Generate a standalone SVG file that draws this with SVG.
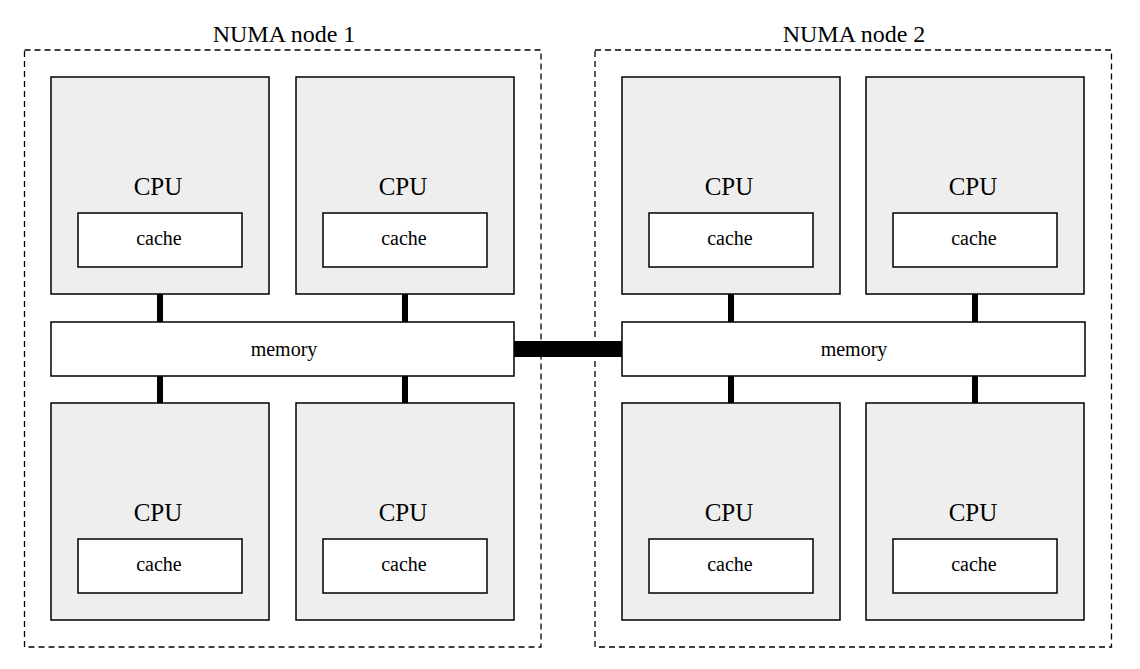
<svg xmlns="http://www.w3.org/2000/svg" width="1140" height="669" viewBox="0 0 1140 669">
<style>
.numa{fill:none;stroke:#000;stroke-width:1.3;stroke-dasharray:6,4}
.cpu{fill:#eeeeee;stroke:#000;stroke-width:1.5}
.box{fill:#fff;stroke:#000;stroke-width:1.5}
.title{font-family:"Liberation Serif",serif;font-size:24px;text-anchor:middle;fill:#000}
.big{font-family:"Liberation Serif",serif;font-size:25px;text-anchor:middle;fill:#000}
.small{font-family:"Liberation Serif",serif;font-size:20px;text-anchor:middle;fill:#000}
.link{fill:#000}
</style>
<rect width="1140" height="669" fill="#fff"/>
<g id="numa1"><rect class="numa" x="24.5" y="50" width="516.5" height="597"/><text class="title" x="284" y="42">NUMA node 1</text></g>
<g id="numa2"><rect class="numa" x="595" y="50" width="516.5" height="597"/><text class="title" x="854" y="42">NUMA node 2</text></g>
<g id="connectors">
<rect class="link" x="157" y="294" width="6" height="28"/>
<rect class="link" x="402" y="294" width="6" height="28"/>
<rect class="link" x="157" y="376" width="6" height="27"/>
<rect class="link" x="402" y="376" width="6" height="27"/>
<rect class="link" x="728" y="294" width="6" height="28"/>
<rect class="link" x="972" y="294" width="6" height="28"/>
<rect class="link" x="728" y="376" width="6" height="27"/>
<rect class="link" x="972" y="376" width="6" height="27"/>
<rect class="link" x="514" y="341" width="108" height="16"/>
</g>
<g id="cpu1"><rect class="cpu" x="51" y="77" width="218" height="217"/><text class="big" x="158" y="195">CPU</text><rect class="box" x="78" y="213" width="164" height="54"/><text class="small" x="159" y="245">cache</text></g>
<g id="cpu2"><rect class="cpu" x="296" y="77" width="218" height="217"/><text class="big" x="403" y="195">CPU</text><rect class="box" x="323" y="213" width="164" height="54"/><text class="small" x="404" y="245">cache</text></g>
<g id="cpu3"><rect class="cpu" x="51" y="403" width="218" height="217"/><text class="big" x="158" y="521">CPU</text><rect class="box" x="78" y="539" width="164" height="54"/><text class="small" x="159" y="571">cache</text></g>
<g id="cpu4"><rect class="cpu" x="296" y="403" width="218" height="217"/><text class="big" x="403" y="521">CPU</text><rect class="box" x="323" y="539" width="164" height="54"/><text class="small" x="404" y="571">cache</text></g>
<g id="mem1"><rect class="box" x="51" y="322" width="463" height="54"/><text class="small" x="284" y="356">memory</text></g>
<g id="cpu5"><rect class="cpu" x="622" y="77" width="218" height="217"/><text class="big" x="729" y="195">CPU</text><rect class="box" x="649" y="213" width="164" height="54"/><text class="small" x="730" y="245">cache</text></g>
<g id="cpu6"><rect class="cpu" x="866" y="77" width="218" height="217"/><text class="big" x="973" y="195">CPU</text><rect class="box" x="893" y="213" width="164" height="54"/><text class="small" x="974" y="245">cache</text></g>
<g id="cpu7"><rect class="cpu" x="622" y="403" width="218" height="217"/><text class="big" x="729" y="521">CPU</text><rect class="box" x="649" y="539" width="164" height="54"/><text class="small" x="730" y="571">cache</text></g>
<g id="cpu8"><rect class="cpu" x="866" y="403" width="218" height="217"/><text class="big" x="973" y="521">CPU</text><rect class="box" x="893" y="539" width="164" height="54"/><text class="small" x="974" y="571">cache</text></g>
<g id="mem2"><rect class="box" x="622" y="322" width="463" height="54"/><text class="small" x="854" y="356">memory</text></g>
</svg>
